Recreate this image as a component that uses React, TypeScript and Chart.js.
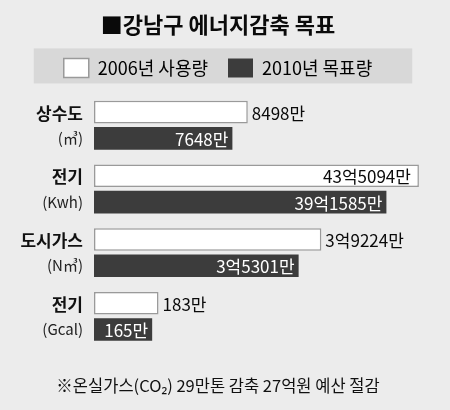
import React, { useEffect, useRef } from "react";
import { Chart, registerables } from "chart.js";

Chart.register(...registerables);

const FONT = "'Noto Sans CJK KR', 'Noto Sans', sans-serif";

const categories = ["상수도", "전기", "도시가스", "전기"];
const units = ["(㎥)", "(Kwh)", "(N㎥)", "(Gcal)"];
const seriesNames = ["2006년 사용량", "2010년 목표량"];
// values in 만 (10,000) units
const usage2006 = [8498, 435094, 39224, 183];
const target2010 = [7648, 391585, 35301, 165];
// each category is drawn on its own value scale (different units)
const axisMax = [18900, 458000, 59000, 970];
const titleText = "■강남구 에너지감축 목표";
const footnote = "※온실가스(CO₂) 29만톤 감축 27억원 예산 절감";

const WHITE_FILL = "#ffffff";
const WHITE_BORDER = "#9a9a9a";
const DARK_FILL = "#3c3c3c";

function fmt(v: number): string {
  if (v >= 10000) {
    return `${Math.floor(v / 10000)}억${String(v % 10000).padStart(4, "0")}만`;
  }
  return `${v}만`;
}

const bandPlugin = {
  id: "legendBand",
  beforeDraw(chart: any) {
    const lg = chart.legend;
    if (!lg || !lg.legendHitBoxes || !lg.legendHitBoxes.length) return;
    const hb = lg.legendHitBoxes;
    const first = hb[0];
    const last = hb[hb.length - 1];
    const ctx = chart.ctx;
    const top = first.top - 10;
    const bottom = first.top + first.height + 6;
    const left = first.left - 30;
    const right = last.left + last.width + 40;
    ctx.save();
    ctx.fillStyle = "#d8d8d8";
    ctx.fillRect(left, top, right - left, bottom - top);
    ctx.restore();
  },
};

const labelPlugin = {
  id: "barLabels",
  afterDatasetsDraw(chart: any) {
    const ctx = chart.ctx;
    const area = chart.chartArea;
    ctx.save();
    ctx.textBaseline = "middle";
    categories.forEach((cat, i) => {
      const wBar = chart.getDatasetMeta(2 * i).data[i];
      const dBar = chart.getDatasetMeta(2 * i + 1).data[i];
      if (!wBar || !dBar) return;
      ctx.font = `400 17px ${FONT}`;
      const wt = fmt(usage2006[i]);
      const tw = ctx.measureText(wt).width;
      ctx.fillStyle = "#0a0a0a";
      if (wBar.x + 4 + tw <= chart.width - 2) {
        ctx.textAlign = "left";
        ctx.fillText(wt, wBar.x + 4, wBar.y + 1);
      } else {
        ctx.textAlign = "right";
        ctx.fillText(wt, wBar.x - 8, wBar.y + 1);
      }
      ctx.textAlign = "right";
      ctx.fillStyle = "#ffffff";
      ctx.fillText(fmt(target2010[i]), dBar.x - 4, dBar.y + 1);

      ctx.font = `700 17px ${FONT}`;
      ctx.fillStyle = "#111111";
      ctx.textAlign = "right";
      ctx.fillText(cat, area.left - 11, wBar.y + 1);
      ctx.font = `400 15px ${FONT}`;
      ctx.fillStyle = "#222222";
      ctx.fillText(units[i], area.left - 11, dBar.y);
    });
    ctx.restore();
  },
};

export default function App() {
  const ref = useRef<HTMLCanvasElement | null>(null);

  useEffect(() => {
    document.body.style.margin = "0";
    Chart.defaults.font.family = FONT;
    const datasets: any[] = [];
    categories.forEach((_, i) => {
      [usage2006, target2010].forEach((arr, s) => {
        datasets.push({
          label: seriesNames[s],
          data: categories.map((__, j) => (j === i ? arr[i] : null)),
          xAxisID: "x" + i,
          backgroundColor: s === 0 ? WHITE_FILL : DARK_FILL,
          borderColor: s === 0 ? WHITE_BORDER : DARK_FILL,
          borderWidth: s === 0 ? 1.5 : 0,
          borderSkipped: false,
          categoryPercentage: 0.8255,
          barPercentage: 0.86,
          skipNull: true,
        });
      });
    });

    const scales: any = {
      y: {
        type: "category",
        axis: "y",
        offset: true,
        display: true,
        grid: { display: false },
        border: { display: false },
        ticks: { display: false },
        afterFit: (s: any) => {
          s.width = 94;
        },
      },
    };
    axisMax.forEach((m, i) => {
      scales["x" + i] = {
        type: "linear",
        axis: "x",
        position: i === 0 ? "top" : "bottom",
        min: 0,
        max: m,
        display: i === 0,
        grid: { display: false },
        border: { display: false },
        ticks: { display: false },
        afterFit: (s: any) => {
          s.height = 6;
        },
      };
    });

    const chart = new Chart(ref.current as HTMLCanvasElement, {
      type: "bar",
      data: { labels: categories, datasets },
      options: {
        indexAxis: "y",
        responsive: false,
        animation: false,
        layout: { padding: { left: 0, right: 14, top: 0, bottom: 0 } },
        scales,
        plugins: {
          title: {
            display: true,
            text: titleText,
            color: "#0a0a0a",
            font: { family: FONT, size: 22, weight: "bold" },
            padding: { top: 11, bottom: 1 },
          },
          legend: {
            display: true,
            position: "top",
            onClick: () => {},
            labels: {
              boxWidth: 25,
              boxHeight: 19,
              padding: 20,
              color: "#0a0a0a",
              font: { family: FONT, size: 18 },
              generateLabels: () => [
                {
                  text: seriesNames[0],
                  fillStyle: WHITE_FILL,
                  strokeStyle: WHITE_BORDER,
                  lineWidth: 1.5,
                  hidden: false,
                  datasetIndex: 0,
                },
                {
                  text: seriesNames[1],
                  fillStyle: DARK_FILL,
                  strokeStyle: DARK_FILL,
                  lineWidth: 0,
                  hidden: false,
                  datasetIndex: 1,
                },
              ],
            },
          },
          subtitle: {
            display: true,
            position: "bottom",
            text: footnote,
            color: "#111111",
            font: { family: FONT, size: 16.5 },
            padding: { top: 10, bottom: 14 },
          },
          tooltip: { enabled: false },
        },
      },
      plugins: [bandPlugin, labelPlugin],
    } as any);
    return () => chart.destroy();
  }, []);

  return (
    <div style={{ width: 450, height: 410, background: "#ececec" }}>
      <canvas ref={ref} width={450} height={410} style={{ display: "block" }} />
    </div>
  );
}
